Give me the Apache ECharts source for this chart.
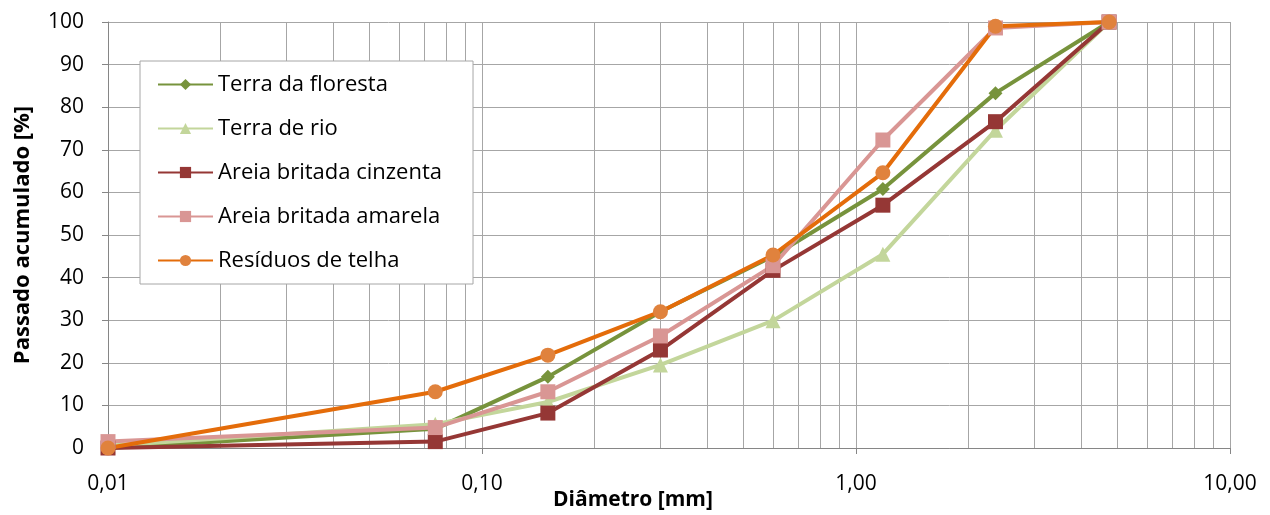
<!DOCTYPE html>
<html>
<head>
<meta charset="utf-8">
<script src="https://cdn.jsdelivr.net/npm/echarts@6/dist/echarts.min.js"></script>
<style>
  html, body { margin: 0; padding: 0; background: #fff; }
  #chart { width: 1270px; height: 515px; }
</style>
</head>
<body>
<div id="chart"></div>
<script>
  // sieve sizes [mm]
  const diameters = [0.01, 0.075, 0.15, 0.3, 0.6, 1.18, 2.36, 4.75];

  const terraFloresta = [0, 4.5, 16.7, 32, 45, 60.8, 83.3, 100];
  const terraRio = [0.5, 5.6, 10.8, 19.5, 29.9, 45.5, 74.6, 100];
  const areiaCinzenta = [0, 1.5, 8.2, 23, 41.7, 57, 76.6, 100];
  const areiaAmarela = [1.5, 4.8, 13.2, 26.3, 42.8, 72.3, 98.6, 100];
  const residuosTelha = [0, 13.2, 21.8, 32, 45.3, 64.6, 99, 100];

  // log minor grid positions (2..9 per decade)
  const minorGrid = [0.02, 0.03, 0.04, 0.05, 0.06, 0.07, 0.08, 0.09,
    0.2, 0.3, 0.4, 0.5, 0.6, 0.7, 0.8, 0.9,
    2, 3, 4, 5, 6, 7, 8, 9];

  const font = '"Open Sans", sans-serif';
  const gridColor = '#a6a6a6';

  const pairs = (ys) => diameters.map((d, i) => [d, ys[i]]);

  function makeSeries(name, ys, color, symbol, size, markerColor) {
    return {
      name: name,
      type: 'line',
      data: pairs(ys),
      symbol: symbol,
      symbolSize: size,
      z: 3,
      lineStyle: {color: color, width: 4},
      itemStyle: {color: markerColor || color},
      emphasis: {disabled: true},
      animation: false
    };
  }

  const series = [
    makeSeries('Terra da floresta', terraFloresta, '#77933c', 'diamond', 14),
    makeSeries('Terra de rio', terraRio, '#c3d69b', 'triangle', 15),
    makeSeries('Areia britada cinzenta', areiaCinzenta, '#953735', 'rect', 15),
    makeSeries('Areia britada amarela', areiaAmarela, '#d99694', 'rect', 15),
    makeSeries('Resíduos de telha', residuosTelha, '#e46c0a', 'circle', 15, '#e0823d')
  ];

  series[0].markLine = {
    silent: true,
    z: 1,
    symbol: 'none',
    animation: false,
    label: {show: false},
    lineStyle: {color: gridColor, width: 1, type: 'solid'},
    data: minorGrid.map(v => ({xAxis: v}))
  };

  const chart = echarts.init(document.getElementById('chart'));
  chart.setOption({
    animation: false,
    grid: {left: 108, right: 40, top: 22, bottom: 67, outerBoundsMode: 'none', containLabel: false},
    // x axis title sits left of centre in the original
    graphic: [{
      type: 'text',
      left: 553,
      top: 490,
      style: {text: 'Diâmetro [mm]', font: 'bold 21px "Open Sans", sans-serif', fill: '#000'}
    }],
    legend: {
      orient: 'vertical',
      left: 140,
      top: 61,
      padding: [12, 31, 12, 17],
      itemGap: 21,
      itemWidth: 55,
      itemHeight: 14,
      backgroundColor: '#fff',
      borderColor: '#a6a6a6',
      borderWidth: 1,
      textStyle: {fontFamily: font, fontSize: 22, lineHeight: 23, color: '#000'},
      data: series.map(s => s.name)
    },
    xAxis: {
      type: 'log',
      logBase: 10,
      min: 0.01,
      max: 10,
      axisLine: {lineStyle: {color: '#868686', width: 1}},
      axisTick: {show: true, length: 6, lineStyle: {color: '#868686'}},
      axisLabel: {
        fontFamily: font, fontSize: 21, color: '#000', margin: 26,
        formatter: v => Number(v).toFixed(2).replace('.', ',')
      },
      splitLine: {show: true, lineStyle: {color: gridColor, width: 1}}
    },
    yAxis: {
      type: 'value',
      min: 0,
      max: 100,
      interval: 10,
      name: 'Passado acumulado [%]',
      nameLocation: 'middle',
      nameGap: 74,
      nameRotate: 90,
      nameTextStyle: {fontFamily: font, fontSize: 22, fontWeight: 'bold', color: '#000'},
      axisLine: {show: true, lineStyle: {color: '#868686', width: 1}},
      axisTick: {show: true, length: 6, lineStyle: {color: '#868686'}},
      axisLabel: {fontFamily: font, fontSize: 21, color: '#000', margin: 24},
      splitLine: {show: true, lineStyle: {color: gridColor, width: 1}}
    },
    series: series
  });
</script>
</body>
</html>
